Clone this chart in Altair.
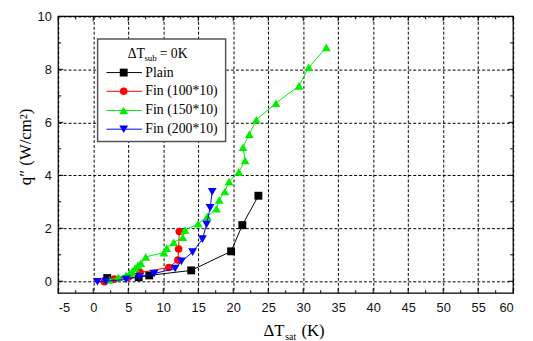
import altair as alt
import pandas as pd

# ---------------- data ----------------
series_names = ["Plain", "Fin (100*10)", "Fin (150*10)", "Fin (200*10)"]
series_colors = ["#000000", "#ff0000", "#00ee00", "#0000ff"]
series_shapes = ["square", "circle", "triangle-up", "triangle-down"]

plain_x = [2.0, 6.5, 8.0, 14.0, 19.7, 21.3, 23.6]
plain_y = [0.12, 0.15, 0.22, 0.41, 1.13, 2.12, 3.23]

fin100_x = [1.6, 3.0, 5.0, 6.7, 10.8, 12.1, 12.2, 12.3]
fin100_y = [-0.02, 0.08, 0.15, 0.33, 0.52, 0.80, 1.22, 1.88]

fin150_x = [2.3, 3.6, 4.7, 5.2, 5.6, 6.0, 6.4, 6.8, 7.5, 10.1, 10.5, 11.5, 12.8, 13.1,
            15.0, 16.3, 17.6, 18.0, 18.8, 19.4, 20.8, 21.7, 21.4, 22.3, 23.3, 26.1,
            29.4, 30.8, 33.3]
fin150_y = [0.05, 0.15, 0.22, 0.30, 0.38, 0.50, 0.60, 0.68, 0.92, 1.08, 1.25, 1.47, 1.66, 1.93,
            2.17, 2.45, 2.74, 3.07, 3.39, 3.76, 4.13, 4.56, 5.06, 5.55, 6.10, 6.72,
            7.38, 8.08, 8.83]

fin200_x = [0.6, 1.8, 4.7, 6.6, 8.7, 11.7, 12.6, 14.2, 15.6, 16.2, 16.7, 17.0]
fin200_y = [-0.02, 0.0, 0.07, 0.17, 0.29, 0.48, 0.75, 1.10, 1.59, 2.15, 2.77, 3.38]

x_ticks = [-5, 0, 5, 10, 15, 20, 25, 30, 35, 40, 45, 50, 55, 60]
x_minor = [-2.5, 2.5, 7.5, 12.5, 17.5, 22.5, 27.5, 32.5, 37.5, 42.5, 47.5, 52.5, 57.5]
y_ticks = [0, 2, 4, 6, 8, 10]
y_minor = [1, 3, 5, 7, 9]

legend_title = ["\u0394T", "sub", "= 0K"]
x_title = ["\u0394T", "sat", "(K)"]
y_title = "q\u2033 (W/cm\u00b2)"

# ---------------- layout ----------------
W, H = 462, 281
SERIF = "Liberation Serif"
SANS = "Liberation Sans"

xs = alt.Scale(domain=[-5, 60], nice=False, zero=False)
ys = alt.Scale(domain=[-0.45, 10], nice=False, zero=False)

x_axis = alt.Axis(values=x_ticks, grid=True, gridDash=[3, 2], gridColor="#000000",
                  gridWidth=1, gridOpacity=1, tickSize=0, domain=False, labelFont=SANS,
                  labelFontSize=13, labelColor="#111111", labelPadding=9, title=None,
                  labelExpr="'' + datum.value")
y_axis = alt.Axis(values=y_ticks, grid=True, gridDash=[3, 2], gridColor="#000000",
                  gridWidth=1, gridOpacity=1, tickSize=0, domain=False, labelFont=SANS,
                  labelFontSize=13, labelColor="#111111", labelPadding=7, title=None,
                  labelExpr="'' + datum.value")

one = pd.DataFrame({"a": [0]})


def X(field):
    return alt.X(field, scale=xs, axis=x_axis, title=None)


def Y(field):
    return alt.Y(field, scale=ys, axis=y_axis, title=None)


layers = []

series_data = [(plain_x, plain_y), (fin100_x, fin100_y), (fin150_x, fin150_y), (fin200_x, fin200_y)]


def msize(shp):
    return 64 if shp == "square" else (60 if shp == "circle" else 80)


for (sx, sy), name, col, shp in zip(series_data, series_names, series_colors, series_shapes):
    df = pd.DataFrame({"x": sx, "y": sy, "i": list(range(len(sx)))})
    line = alt.Chart(df).mark_line(color=col, strokeWidth=1).encode(x=X("x:Q"), y=Y("y:Q"), order="i:Q")
    pts = alt.Chart(df).mark_point(shape=shp, filled=True, size=msize(shp), color=col,
                                   opacity=1).encode(x=X("x:Q"), y=Y("y:Q"))
    layers += [line, pts]

# inward ticks on all four sides
xt = pd.DataFrame({"v": x_ticks})
xm = pd.DataFrame({"v": x_minor})
yt = pd.DataFrame({"w": y_ticks})
ym = pd.DataFrame({"w": y_minor})
for d, ln in [(xt, 5), (xm, 3)]:
    layers.append(alt.Chart(d).mark_rule(color="#000", strokeWidth=1).encode(
        x=X("v:Q"), y=alt.value(H), y2=alt.value(H - ln)))
    layers.append(alt.Chart(d).mark_rule(color="#000", strokeWidth=1).encode(
        x=X("v:Q"), y=alt.value(0), y2=alt.value(ln)))
for d, ln in [(yt, 5), (ym, 3)]:
    layers.append(alt.Chart(d).mark_rule(color="#000", strokeWidth=1).encode(
        y=Y("w:Q"), x=alt.value(0), x2=alt.value(ln)))
    layers.append(alt.Chart(d).mark_rule(color="#000", strokeWidth=1).encode(
        y=Y("w:Q"), x=alt.value(W), x2=alt.value(W - ln)))

# frame
layers.append(alt.Chart(one).mark_rect(fill=None, stroke="#000", strokeWidth=1.2).encode(
    x=alt.value(0), x2=alt.value(W), y=alt.value(0), y2=alt.value(H)))

# legend box
layers.append(alt.Chart(one).mark_rect(fill="white", stroke="#555555", strokeWidth=1.5).encode(
    x=alt.value(40), x2=alt.value(170), y=alt.value(23), y2=alt.value(127)))


def txt(s, x, y, size, font=SERIF, align="left", baseline="alphabetic", angle=0):
    return alt.Chart(one).mark_text(text=s, font=font, fontSize=size, align=align,
                                    baseline=baseline, angle=angle, color="#000").encode(
        x=alt.value(x), y=alt.value(y))


layers.append(txt(legend_title[0], 70.5, 42.5, 14))
layers.append(txt(legend_title[1], 87.5, 45.5, 9))
layers.append(txt(legend_title[2], 103, 42.5, 14))

row_y = [57, 76, 95.5, 114.5]
for name, col, shp, ry in zip(series_names, series_colors, series_shapes, row_y):
    layers.append(alt.Chart(one).mark_rule(color=col, strokeWidth=1).encode(
        x=alt.value(49), x2=alt.value(85), y=alt.value(ry)))
    layers.append(alt.Chart(one).mark_point(shape=shp, filled=True, size=msize(shp), color=col,
                                            opacity=1).encode(x=alt.value(66.5), y=alt.value(ry)))
    layers.append(txt(name, 88.5, ry, 14, baseline="middle"))

# axis titles
layers.append(txt(x_title[0], 208.5, 325, 17))
layers.append(txt(x_title[1], 230.5, 329, 10))
layers.append(txt(x_title[2], 247, 325, 17))
layers.append(txt(y_title, -33, H / 2 - 8, 17, align="center", baseline="middle", angle=270))

chart = alt.layer(*layers).properties(
    width=W, height=H,
    autosize=alt.AutoSizeParams(type="none"),
    padding={"left": 51, "top": 6, "right": 12, "bottom": 46},
).configure_view(stroke=None)

chart.save("out.html", embed_options={"renderer": "svg", "actions": False})
